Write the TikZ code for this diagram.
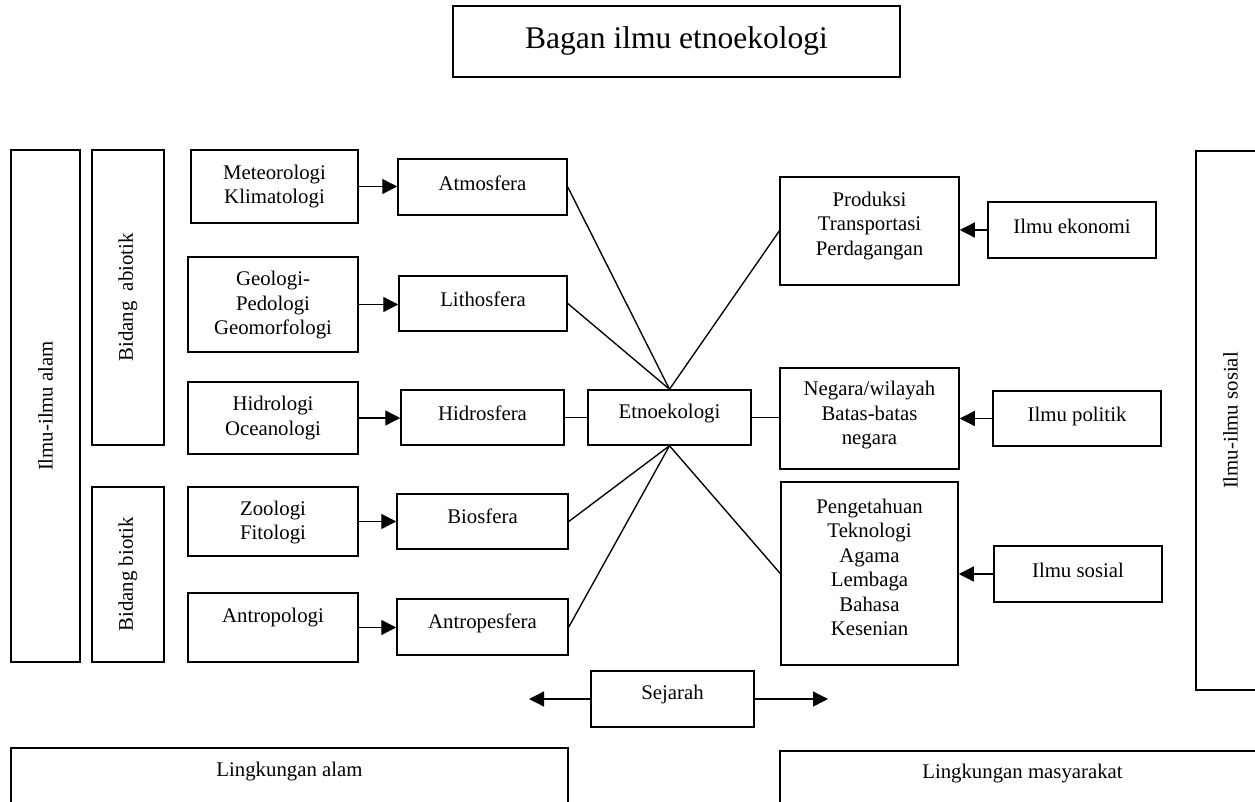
\documentclass[tikz,border=0pt]{standalone}
\usepackage{fontspec}
\setmainfont{Liberation Serif}
\usetikzlibrary{arrows.meta}

\tikzset{
  box/.style={draw, rectangle, line width=1.5pt, inner sep=0pt},
  txt/.style={align=center, inner sep=0pt, font=\fontsize{20.8}{24.5}\selectfont},
  link/.style={line width=1.35pt},
  feed/.style={line width=1.35pt, -{Triangle[length=15pt,width=15pt]}},
}

% \etnobox{name}{x1}{y1}{x2}{y2}{text lift}{text}
\newcommand\etnobox[7]{%
  \node[box, minimum width={#4-#2}, minimum height={#5-#3}]
    (#1) at ({(#2+#4)/2},{(#3+#5)/2}) {};
  \node[txt] (#1-t) at ([yshift=#6pt]#1.center) {#7};
}

\begin{document}
\begin{tikzpicture}[x=1pt,y=-1pt]
\useasboundingbox (0,0) rectangle (1255,802);
\clip (0,0) rectangle (1255,802);

% title
\etnobox{title}{453}{6}{900}{77}{1}{\fontsize{31.5}{36}\selectfont Bagan ilmu etnoekologi}

% natural sciences column
\etnobox{alam}{11}{150}{80}{662}{0}{}
\node[txt, rotate=90] (alam-r) at (alam.center) {Ilmu-ilmu alam};
\etnobox{abiotik}{92}{150}{164}{445}{0}{}
\node[txt, rotate=90] (abiotik-r) at (abiotik.center) {Bidang~ abiotik};
\etnobox{biotik}{92}{487}{164}{662}{0}{}
\node[txt, rotate=90] (biotik-r) at (biotik.center) {Bidang biotik};

\etnobox{meteo}{191}{150}{358}{223}{0}{Meteorologi\\Klimatologi}
\etnobox{geo}{188}{257}{358}{352}{-1}{Geologi-\\Pedologi\\Geomorfologi}
\etnobox{hidro}{188}{382}{358}{454}{0}{Hidrologi\\Oceanologi}
\etnobox{zoo}{188}{487}{358}{556}{-1}{Zoologi\\Fitologi}
\etnobox{antro}{188}{593}{358}{662}{9.5}{Antropologi}

% spheres
\etnobox{atmos}{398}{159}{567}{215}{4}{Atmosfera}
\etnobox{litho}{399}{276}{567}{331}{4}{Lithosfera}
\etnobox{hidros}{401}{390}{564}{445}{4.5}{Hidrosfera}
\etnobox{bios}{397}{494}{568}{549}{5}{Biosfera}
\etnobox{antros}{397}{599}{568}{655}{4}{Antropesfera}

% centre
\etnobox{etno}{588}{390}{751}{445}{3.5}{Etnoekologi}

% social side
\etnobox{produksi}{780}{177}{959}{285}{5}{Produksi\\Transportasi\\Perdagangan}
\etnobox{negara}{780}{368}{959}{469}{3}{Negara/wilayah\\Batas-batas\\negara}
\etnobox{penget}{781}{482}{958}{665}{6}{Pengetahuan\\Teknologi\\Agama\\Lembaga\\Bahasa\\Kesenian}
\etnobox{ekon}{988}{202}{1156}{258}{4}{Ilmu ekonomi}
\etnobox{polit}{993}{391}{1161}{446}{2.5}{Ilmu politik}
\etnobox{sosial}{994}{546}{1162}{602}{4}{Ilmu sosial}
\etnobox{sosialsci}{1196}{151}{1265}{690}{0}{}
\node[txt, rotate=90] (sosialsci-r) at (sosialsci.center) {Ilmu-ilmu sosial};

% history and environments
\etnobox{sejarah}{591}{671}{754}{727}{4.5}{Sejarah}
\etnobox{lingalam}{11}{748}{568}{830}{17}{Lingkungan alam}
\etnobox{lingmas}{780}{751}{1265}{830}{16.5}{Lingkungan masyarakat}

% feeding arrows
\draw[feed] (meteo.east) -- (meteo.east -| atmos.west);
\draw[feed] (geo.east) -- (geo.east -| litho.west);
\draw[feed] (hidro.east) -- (hidro.east -| hidros.west);
\draw[feed] (zoo.east) -- (zoo.east -| bios.west);
\draw[feed] (antro.east) -- (antro.east -| antros.west);
\draw[feed] (ekon.west) -- (ekon.west -| produksi.east);
\draw[feed] (polit.west) -- (polit.west -| negara.east);
\draw[feed] (sosial.west) -- (sosial.west -| penget.east);

% links to the centre
\draw[link] (atmos.east) -- (etno.north);
\draw[link] (litho.east) -- (etno.north);
\draw[link] (produksi.west) -- (etno.north);
\draw[link] (hidros.east) -- (hidros.east -| etno.west);
\draw[link] (etno.east) -- (etno.east -| negara.west);
\draw[link] (bios.east) -- (etno.south);
\draw[link] (antros.east) -- (etno.south);
\draw[link] (penget.west) -- (etno.south);

% history arrows
\coordinate (sejL) at (529,699);
\coordinate (sejR) at (828,699);
\draw[feed] (sejarah.west) -- (sejL);
\draw[feed] (sejarah.east) -- (sejR);
\end{tikzpicture}
\end{document}
